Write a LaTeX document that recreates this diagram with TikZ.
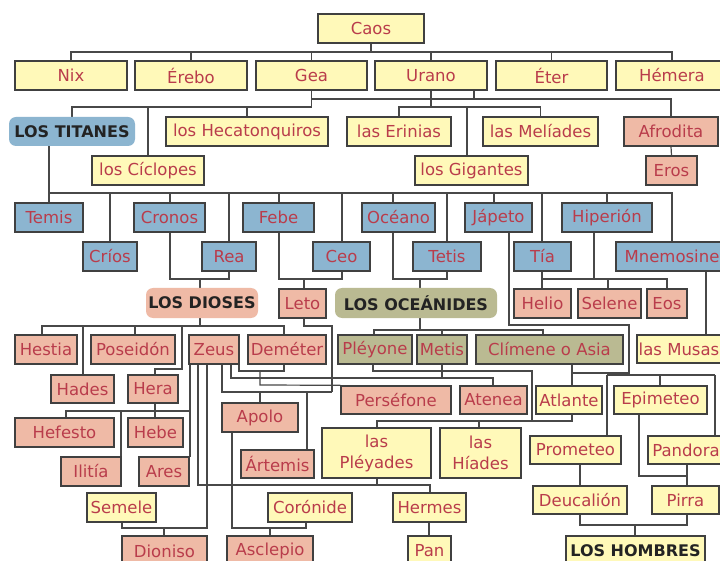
\documentclass[tikz,border=0pt]{standalone}
\usepackage{fontspec}
\setmainfont{DejaVu Sans}
\usetikzlibrary{backgrounds}
\definecolor{yel}{RGB}{255,249,185}
\definecolor{blu}{RGB}{140,181,208}
\definecolor{sal}{RGB}{239,186,166}
\definecolor{oli}{RGB}{186,186,146}
\definecolor{bordc}{RGB}{64,64,64}
\definecolor{linec}{RGB}{72,72,72}
\definecolor{txtc}{RGB}{185,60,75}
\definecolor{headc}{RGB}{35,35,35}
\newcommand\fs{\fontsize{16.5}{21}\selectfont}
\newcommand\hfs{\fontsize{16}{18}\selectfont\bfseries}
\newcommand\bx[7]{\node[#1, minimum width={(#5-#3)*1pt}, minimum height={(#6-#4)*1pt}] (#2) at ({(#3+#5)/2},{(#4+#6)/2}) {#7};}
\tikzset{
  base/.style={draw=bordc, line width=1.4pt, inner sep=0pt, align=center, font=\fs, text=txtc},
  yb/.style={base, fill=yel},
  bb/.style={base, fill=blu},
  sb/.style={base, fill=sal},
  ob/.style={base, fill=oli},
  head/.style={inner sep=0pt, rounded corners=7pt, font=\hfs, text=headc},
  hb/.style={base, fill=yel, font=\hfs, text=headc},
  conn/.style={draw=linec, line width=1.2pt}
}
\begin{document}
\begin{tikzpicture}[x=1pt,y=-1pt]
\useasboundingbox (0,0) rectangle (720,561);
% yellow
\bx{yb}{caos}{318}{14}{424}{43}{Caos}
\bx{yb}{nix}{15}{61}{127}{90}{Nix}
\bx{yb}{erebo}{135}{61}{247}{90}{Érebo}
\bx{yb}{gea}{256}{61}{367}{90}{Gea}
\bx{yb}{urano}{375}{61}{487}{90}{Urano}
\bx{yb}{eter}{496}{61}{607}{90}{Éter}
\bx{yb}{hemera}{616}{61}{728}{90}{Hémera}
\bx{yb}{hecaton}{166}{117}{328}{146}{los Hecatonquiros}
\bx{yb}{erinias}{347}{117}{451}{146}{las Erinias}
\bx{yb}{melias}{483}{117}{598}{146}{las Melíades}
\bx{yb}{ciclopes}{92}{156}{204}{185}{los Cíclopes}
\bx{yb}{gigantes}{415}{156}{528}{185}{los Gigantes}
\bx{yb}{musas}{637}{335}{721}{363}{las Musas}
\bx{yb}{atlante}{536}{386}{602}{414}{Atlante}
\bx{yb}{epimeteo}{614}{386}{707}{414}{Epimeteo}
\bx{yb}{pleyades}{322}{428}{431}{478}{las\\Pléyades}
\bx{yb}{hiades}{440}{428}{521}{478}{las\\Híades}
\bx{yb}{prometeo}{530}{436}{621}{464}{Prometeo}
\bx{yb}{pandora}{648}{436}{724}{464}{Pandora}
\bx{yb}{semele}{87}{493}{156}{522}{Semele}
\bx{yb}{coronide}{268}{493}{352}{522}{Corónide}
\bx{yb}{hermes}{393}{493}{466}{522}{Hermes}
\bx{yb}{deucalion}{533}{486}{627}{514}{Deucalión}
\bx{yb}{pirra}{652}{486}{719}{514}{Pirra}
\bx{yb}{pan}{408}{536}{451}{566}{Pan}
\bx{hb}{hombres}{566}{536}{705}{566}{LOS HOMBRES}
% salmon
\bx{sb}{afrodita}{624}{117}{718}{146}{Afrodita}
\bx{sb}{eros}{646}{156}{697}{185}{Eros}
\bx{sb}{leto}{279}{289}{326}{318}{Leto}
\bx{sb}{helio}{514}{289}{571}{318}{Helio}
\bx{sb}{selene}{578}{289}{641}{318}{Selene}
\bx{sb}{eos}{647}{289}{687}{318}{Eos}
\bx{sb}{hestia}{15}{335}{77}{364}{Hestia}
\bx{sb}{poseidon}{91}{335}{175}{364}{Poseidón}
\bx{sb}{zeus}{189}{335}{239}{364}{Zeus}
\bx{sb}{demeter}{248}{335}{326}{364}{Deméter}
\bx{sb}{hades}{51}{375}{114}{403}{Hades}
\bx{sb}{hera}{128}{375}{178}{403}{Hera}
\bx{sb}{persefone}{341}{386}{451}{414}{Perséfone}
\bx{sb}{atenea}{460}{386}{527}{414}{Atenea}
\bx{sb}{apolo}{222}{403}{298}{432}{Apolo}
\bx{sb}{hefesto}{15}{418}{114}{447}{Hefesto}
\bx{sb}{hebe}{128}{418}{183}{447}{Hebe}
\bx{sb}{artemis}{241}{450}{314}{478}{Ártemis}
\bx{sb}{ilitia}{61}{457}{121}{486}{Ilitía}
\bx{sb}{ares}{139}{457}{189}{486}{Ares}
\bx{sb}{dioniso}{122}{536}{207}{566}{Dioniso}
\bx{sb}{asclepio}{227}{536}{313}{566}{Asclepio}
% blue
\bx{bb}{temis}{15}{203}{83}{232}{Temis}
\bx{bb}{cronos}{134}{203}{205}{232}{Cronos}
\bx{bb}{febe}{243}{203}{314}{232}{Febe}
\bx{bb}{oceano}{362}{203}{435}{232}{Océano}
\bx{bb}{japeto}{465}{203}{532}{232}{Jápeto}
\bx{bb}{hiperion}{562}{203}{652}{232}{Hiperión}
\bx{bb}{crios}{83}{242}{137}{271}{Críos}
\bx{bb}{rea}{202}{242}{256}{271}{Rea}
\bx{bb}{ceo}{313}{242}{370}{271}{Ceo}
\bx{bb}{tetis}{413}{242}{481}{271}{Tetis}
\bx{bb}{tia}{514}{242}{571}{271}{Tía}
\bx{bb}{mnemo}{616}{242}{728}{271}{Mnemosine}
% olive
\bx{ob}{pleyone}{338}{335}{412}{364}{Pléyone}
\bx{ob}{metis}{417}{335}{467}{364}{Metis}
\bx{ob}{climene}{476}{335}{623}{364}{Clímene o Asia}
% headings
\bx{head,fill=blu}{titanes}{9}{117}{135}{146}{LOS TITANES}
\bx{head,fill=sal}{dioses}{146}{288}{258}{318}{LOS DIOSES}
\bx{head,fill=oli}{oceanides}{335}{288}{497}{318}{LOS OCEÁNIDES}

\begin{pgfonlayer}{background}
\fill[white] (0,0) rectangle (720,561);
% Caos
\draw[conn] (caos.south) -- (371,52);
\draw[conn] (nix.north) -- (71,52) -- (672,52) -- (hemera.north);
\draw[conn] (erebo.north) -- (191,52);
\draw[conn] (gea.north) -- (311.5,52);
\draw[conn] (urano.north) -- (431,52);
\draw[conn] (eter.north) -- (551.5,52);
% Gea
\draw[conn] (gea.south) -- (311.5,107);
\draw[conn] (titanes.north -| 72,0) -- (72,107) -- (311.5,107);
\draw[conn] (ciclopes.north) -- (148,107);
\draw[conn] (hecaton.north) -- (247,107);
\draw[conn] (311.5,99) -- (671,99) -- (afrodita.north);
\draw[conn] (urano.south -| 474,0) -- (474,99);
% Urano
\draw[conn] (urano.south) -- (431,107);
\draw[conn] (erinias.north) -- (399,107) -- (540.5,107) -- (melias.north);
\draw[conn] (gigantes.north -| 467,0) -- (467,107);
\draw[conn] (afrodita.south) -- (eros.north);
% Titanes
\draw[conn] (titanes.south -| 49,0) -- (49,193) -- (672,193) -- (mnemo.north);
\draw[conn] (temis.north -| 49,0) -- (49,193);
\draw[conn] (crios.north -| 110,0) -- (110,193);
\draw[conn] (cronos.north -| 170,0) -- (170,193);
\draw[conn] (rea.north -| 229,0) -- (229,193);
\draw[conn] (febe.north -| 279,0) -- (279,193);
\draw[conn] (ceo.north -| 342,0) -- (342,193);
\draw[conn] (oceano.north -| 393,0) -- (393,193);
\draw[conn] (tetis.north -| 447,0) -- (447,193);
\draw[conn] (japeto.north -| 494,0) -- (494,193);
\draw[conn] (tia.north -| 542,0) -- (542,193);
\draw[conn] (hiperion.north -| 607,0) -- (607,193);
% Cronos-Rea
\draw[conn] (cronos.south -| 170,0) -- (170,279) -- (229,279) -- (rea.south -| 229,0);
\draw[conn] (dioses.north -| 200,0) -- (200,279);
% Febe-Ceo
\draw[conn] (febe.south -| 279,0) -- (279,279) -- (342,279) -- (ceo.south -| 342,0);
\draw[conn] (leto.north -| 304,0) -- (304,279);
% Oceano-Tetis
\draw[conn] (oceano.south -| 393,0) -- (393,279) -- (447,279) -- (tetis.south -| 447,0);
\draw[conn] (oceanides.north -| 420,0) -- (420,279);
% Hiperion-Tia
\draw[conn] (hiperion.south -| 594,0) -- (594,279);
\draw[conn] (tia.south -| 542,0) -- (helio.north -| 542,0);
\draw[conn] (542,279) -- (667,279) -- (eos.north -| 667,0);
\draw[conn] (selene.north -| 608,0) -- (608,279);
% Japeto-Climene
\draw[conn] (japeto.south -| 509,0) -- (509,325) -- (629,325) -- (629,373) -- (572,373);
\draw[conn] (climene.south -| 572,0) -- (atlante.north -| 572,0);
\draw[conn] (607,375) -- (715,375);
\draw[conn] (prometeo.north -| 607,0) -- (607,375);
\draw[conn] (epimeteo.north -| 660,0) -- (660,375);
\draw[conn] (pandora.north -| 715,0) -- (715,375);
% Mnemosine
\draw[conn] (mnemo.south -| 706,0) -- (musas.north -| 706,0);
% Dioses
\draw[conn] (dioses.south -| 200,0) -- (200,326);
\draw[conn] (hestia.north -| 42,0) -- (42,326) -- (284,326) -- (demeter.north -| 284,0);
\draw[conn] (hades.north -| 83,0) -- (83,326);
\draw[conn] (poseidon.north -| 135,0) -- (135,326);
\draw[conn] (182,326) -- (182,369) -- (155,369) -- (hera.north -| 155,0);
% Oceanides
\draw[conn] (oceanides.south -| 420,0) -- (420,330);
\draw[conn] (pleyone.north -| 374,0) -- (374,330) -- (543,330) -- (climene.north -| 543,0);
\draw[conn] (metis.north -| 442,0) -- (442,330);
% Leto
\draw[conn] (leto.south -| 304,0) -- (304,326) -- (332,326) -- (332,392);
% Hera-Zeus
\draw[conn] (zeus.south -| 190,0) -- (190,457);
\draw[conn] (hera.south -| 155,0) -- (hebe.north -| 155,0);
\draw[conn] (hefesto.north -| 66,0) -- (66,411) -- (190,411);
\draw[conn] (ilitia.north -| 121,0) -- (121,411);
% Zeus - Pleyade (Hermes)
\draw[conn] (zeus.south -| 198,0) -- (198,485) -- (430,485) -- (hermes.north -| 430,0);
\draw[conn] (pleyades.south -| 377,0) -- (377,485);
% Zeus - Semele
\draw[conn] (zeus.south -| 207,0) -- (207,528) -- (122,528) -- (semele.south -| 122,0);
\draw[conn] (dioniso.north -| 164,0) -- (164,528);
% Zeus - Leto
\draw[conn] (zeus.south -| 222,0) -- (222,392) -- (332,392);
\draw[conn] (apolo.north -| 260,0) -- (260,392);
\draw[conn] (artemis.north -| 307,0) -- (307,392);
% Zeus - Metis
\draw[conn] (zeus.south -| 231,0) -- (231,378) -- (493,378) -- (atenea.north -| 493,0);
\draw[conn] (metis.south -| 442,0) -- (442,378);
% Zeus - Demeter
\draw[conn] (zeus.south -| 239,0) -- (239,371) -- (284,371) -- (demeter.south -| 284,0);
\draw[conn] (260,371) -- (260,385) -- (persefone.north west);
% Apolo - Coronide
\draw[conn] (apolo.south -| 232,0) -- (232,528) -- (306,528) -- (coronide.south -| 306,0);
\draw[conn] (asclepio.north -| 270,0) -- (270,528);
% Pleyone - Atlante
\draw[conn] (pleyone.south -| 373,0) -- (373,371) -- (532,371) -- (532,421);
\draw[conn] (pleyades.north -| 377,0) -- (377,421) -- (572,421) -- (atlante.south -| 572,0);
\draw[conn] (hiades.north -| 479,0) -- (479,421);
% Hermes - Pan
\draw[conn] (hermes.south -| 429,0) -- (pan.north -| 429,0);
% Prometeo line
\draw[conn] (prometeo.south -| 580,0) -- (deucalion.north -| 580,0);
\draw[conn] (deucalion.south -| 580,0) -- (580,525) -- (687,525) -- (pirra.south -| 687,0);
\draw[conn] (hombres.north -| 635,0) -- (635,525);
\draw[conn] (epimeteo.south -| 639,0) -- (639,476) -- (687,476);
\draw[conn] (pandora.south -| 687,0) -- (pirra.north -| 687,0);
\end{pgfonlayer}
\end{tikzpicture}
\end{document}
